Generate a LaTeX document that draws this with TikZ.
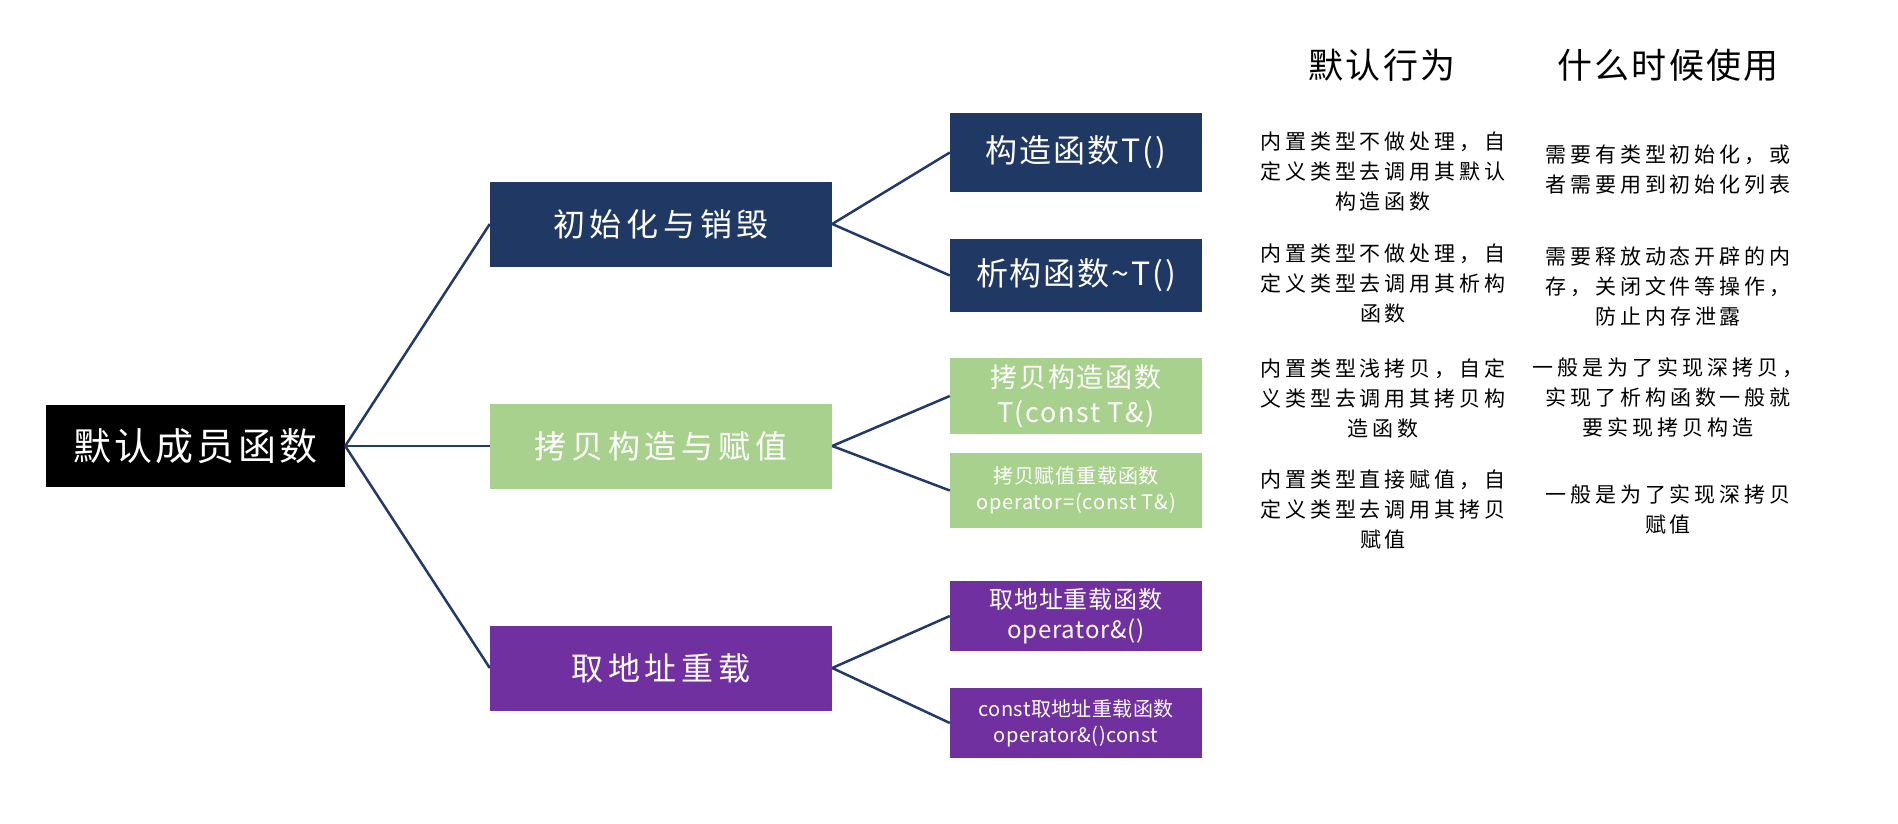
\documentclass[tikz,border=0pt]{standalone}
\usepackage{fontspec}
\setmainfont{Noto Sans CJK SC}
\usetikzlibrary{positioning}
\definecolor{navyblue}{HTML}{1F3864}
\definecolor{leafgreen}{HTML}{A9D18E}
\definecolor{deeppurple}{HTML}{7030A0}
\definecolor{branchline}{HTML}{22396A}

\tikzset{
  box/.style={rectangle, inner sep=0pt, text=white, align=center},
  rootbox/.style={box, fill=black, minimum width=299pt, minimum height=82pt,
    font={\fontsize{38}{44}\selectfont\addfontfeature{LetterSpace=8}}},
  groupbox/.style={box, minimum width=342pt, minimum height=85pt,
    font={\fontsize{32}{38}\selectfont\addfontfeature{LetterSpace=15}}},
  itembox/.style={box, minimum width=252pt},
  head/.style={font={\fontsize{35}{40}\selectfont\addfontfeature{LetterSpace=6}}},
  note/.style={align=center, inner sep=0pt,
    font={\fontsize{21}{30}\selectfont\addfontfeature{LetterSpace=19}}},
  branch/.style={draw=branchline, line width=2.5pt},
}

\begin{document}
\begin{tikzpicture}[x=1pt, y=-1pt]
    \useasboundingbox (0,0) rectangle (1898,824);

    % Root and groups
    \path
    (195.5, 446) node[rootbox] (root) {默认成员函数}
    (661, 224) node[groupbox, fill=navyblue] (init) {初始化与销毁}
    (661, 446) node[groupbox, fill=leafgreen] (copy) {拷贝构造与赋值}
    (661, 668) node[groupbox, fill=deeppurple] (addr) {取地址重载}
    ;

    % Member functions
    \path
    (1076, 152.5) node[itembox, fill=navyblue, minimum height=79pt,
      font={\fontsize{32}{36}\selectfont\addfontfeature{LetterSpace=6}}] (ctor) {构造函数T()}
    (1076, 275.5) node[itembox, fill=navyblue, minimum height=73pt,
      font={\fontsize{32}{36}\selectfont\addfontfeature{LetterSpace=6}}] (dtor) {析构函数\textasciitilde T()}
    (1076, 396) node[itembox, fill=leafgreen, minimum height=76pt,
      font={\fontsize{27}{35}\selectfont\addfontfeature{LetterSpace=6}}] (cpctor) {拷贝构造函数\\T(const T\&)}
    (1076, 490.5) node[itembox, fill=leafgreen, minimum height=75pt,
      font={\fontsize{20}{26}\selectfont\addfontfeature{LetterSpace=4}}] (assign) {拷贝赋值重载函数\\operator=(const T\&)}
    (1076, 616) node[itembox, fill=deeppurple, minimum height=70pt,
      font={\fontsize{24}{30}\selectfont\addfontfeature{LetterSpace=3}}] (getaddr) {取地址重载函数\\operator\&()}
    (1076, 723) node[itembox, fill=deeppurple, minimum height=70pt,
      font={\fontsize{20}{26}\selectfont\addfontfeature{LetterSpace=2}}] (cgetaddr) {const取地址重载函数\\operator\&()const}
    ;

    % Column heads
    \path
    (1382, 65) node[head] (hbehave) {默认行为}
    (1668, 65) node[head] (hwhen) {什么时候使用}
    ;

    % Default behaviour
    \path
    (1383, 172) node[note] (bctor) {内置类型不做处理，自\\定义类型去调用其默认\\构造函数}
    (1383, 284) node[note] (bdtor) {内置类型不做处理，自\\定义类型去调用其析构\\函数}
    (1383, 398) node[note] (bcpctor) {内置类型浅拷贝，自定\\义类型去调用其拷贝构\\造函数}
    (1383, 509) node[note] (bassign) {内置类型直接赋值，自\\定义类型去调用其拷贝\\赋值}
    ;

    % When to use
    \path
    (1668, 170) node[note] (wctor) {需要有类型初始化，或\\者需要用到初始化列表}
    (1668, 286) node[note] (wdtor) {需要释放动态开辟的内\\存，关闭文件等操作，\\防止内存泄露}
    (1668, 397) node[note] (wcpctor) {一般是为了实现深拷贝，\\实现了析构函数一般就\\要实现拷贝构造}
    (1668, 509) node[note] (wassign) {一般是为了实现深拷贝\\赋值}
    ;

    % Root edges
    \draw[branch] (root.east) -- (init.west);
    \draw[branch] (root.east) -- (copy.west);
    \draw[branch] (root.east) -- (addr.west);

    % Group edges
    \draw[branch] (init.east) -- (ctor.west);
    \draw[branch] (init.east) -- (dtor.west);
    \draw[branch] (copy.east) -- (cpctor.west);
    \draw[branch] (copy.east) -- (assign.west);
    \draw[branch] (addr.east) -- (getaddr.west);
    \draw[branch] (addr.east) -- (cgetaddr.west);

\end{tikzpicture}
\end{document}
